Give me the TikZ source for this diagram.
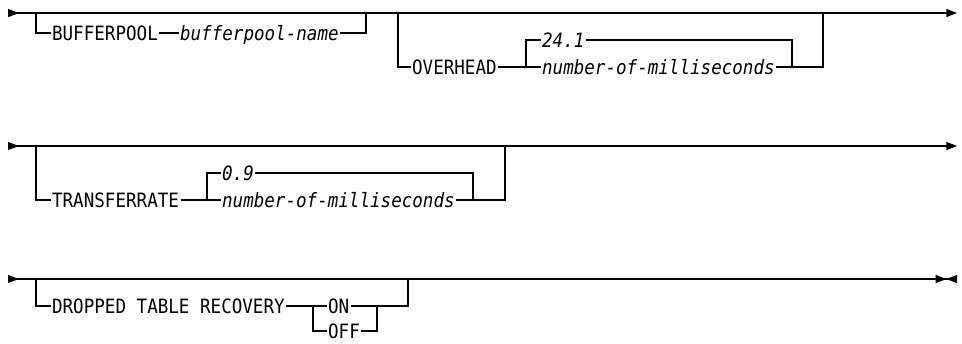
\documentclass[tikz,border=0pt]{standalone}
\usepackage{fontspec}
\setmonofont[FakeStretch=0.89]{DejaVu Sans Mono}
\usepackage{tikz}
\usetikzlibrary{arrows.meta}
\newcommand{\rrfont}{\fontsize{14.8}{17}\selectfont\ttfamily}
\tikzset{
  kw/.style={font=\rrfont,inner xsep=1pt,inner ysep=0pt,text height=10.8pt,
             text depth=0pt,anchor=west},
  vr/.style={kw,font=\rrfont\itshape},
  ln/.style={line width=0.8pt},
  mainln/.style={ln,{Triangle[reversed,length=8.2pt,width=6pt]}-{Triangle[length=8pt,width=6pt]}},
  lastln/.style={ln,{Triangle[reversed,length=8.2pt,width=6pt]}-{Triangle[length=8pt,width=6pt] Triangle[reversed,length=8pt,width=6pt]}},
}
\begin{document}
\begin{tikzpicture}[x=0.75pt,y=-0.75pt]
\useasboundingbox (0,0) rectangle (962,343);
% row 1
\coordinate (r1s) at (8,13);
\coordinate (r1e) at (957,13);
\draw[mainln] (r1s) -- (r1e);
\node[kw] (bp)  at (50.5,33)  {BUFFERPOOL};
\node[vr] (bpn) at (178.5,33) {bufferpool-name};
\coordinate (bpa) at (36,13);
\coordinate (bpb) at (366,13);
\draw[ln] (bpa) |- (bp.west);
\draw[ln] (bp) -- (bpn);
\draw[ln] (bpn.east) -| (bpb);
\node[kw] (oh)  at (410.5,67) {OVERHEAD};
\node[vr] (ohd) at (540.5,40) {24.1};
\node[vr] (ohn) at (540.5,67) {number-of-milliseconds};
\coordinate (oha) at (398,13);
\coordinate (ohb) at (823,13);
\coordinate (ohc) at (526,67);
\coordinate (ohr) at (792,67);
\draw[ln] (oha) |- (oh.west);
\draw[ln] (oh.east) -- (ohn.west);
\draw[ln] (ohc) |- (ohd.west);
\draw[ln] (ohd.east) -| (ohr);
\draw[ln] (ohn.east) -| (ohb);
% row 2
\coordinate (r2s) at (8,146);
\coordinate (r2e) at (957,146);
\draw[mainln] (r2s) -- (r2e);
\node[kw] (tr)  at (50.5,200)  {TRANSFERRATE};
\node[vr] (trd) at (220.5,173) {0.9};
\node[vr] (trn) at (220.5,200) {number-of-milliseconds};
\coordinate (tra) at (36,146);
\coordinate (trb) at (505,146);
\coordinate (trc) at (207,200);
\coordinate (trr) at (473,200);
\draw[ln] (tra) |- (tr.west);
\draw[ln] (tr.east) -- (trn.west);
\draw[ln] (trc) |- (trd.west);
\draw[ln] (trd.east) -| (trr);
\draw[ln] (trn.east) -| (trb);
% row 3
\coordinate (r3s) at (8,279);
\coordinate (r3e) at (957,279);
\draw[lastln] (r3s) -- (r3e);
\node[kw] (dr)  at (50.5,306)  {DROPPED TABLE RECOVERY};
\node[kw] (on)  at (326.5,306) {ON};
\node[kw] (off) at (326.5,331) {OFF};
\coordinate (dra) at (36,279);
\coordinate (drb) at (408,279);
\coordinate (drc) at (313,306);
\coordinate (drr) at (377,306);
\draw[ln] (dra) |- (dr.west);
\draw[ln] (dr.east) -- (on.west);
\draw[ln] (drc) |- (off.west);
\draw[ln] (off.east) -| (drr);
\draw[ln] (on.east) -| (drb);
\end{tikzpicture}
\end{document}
